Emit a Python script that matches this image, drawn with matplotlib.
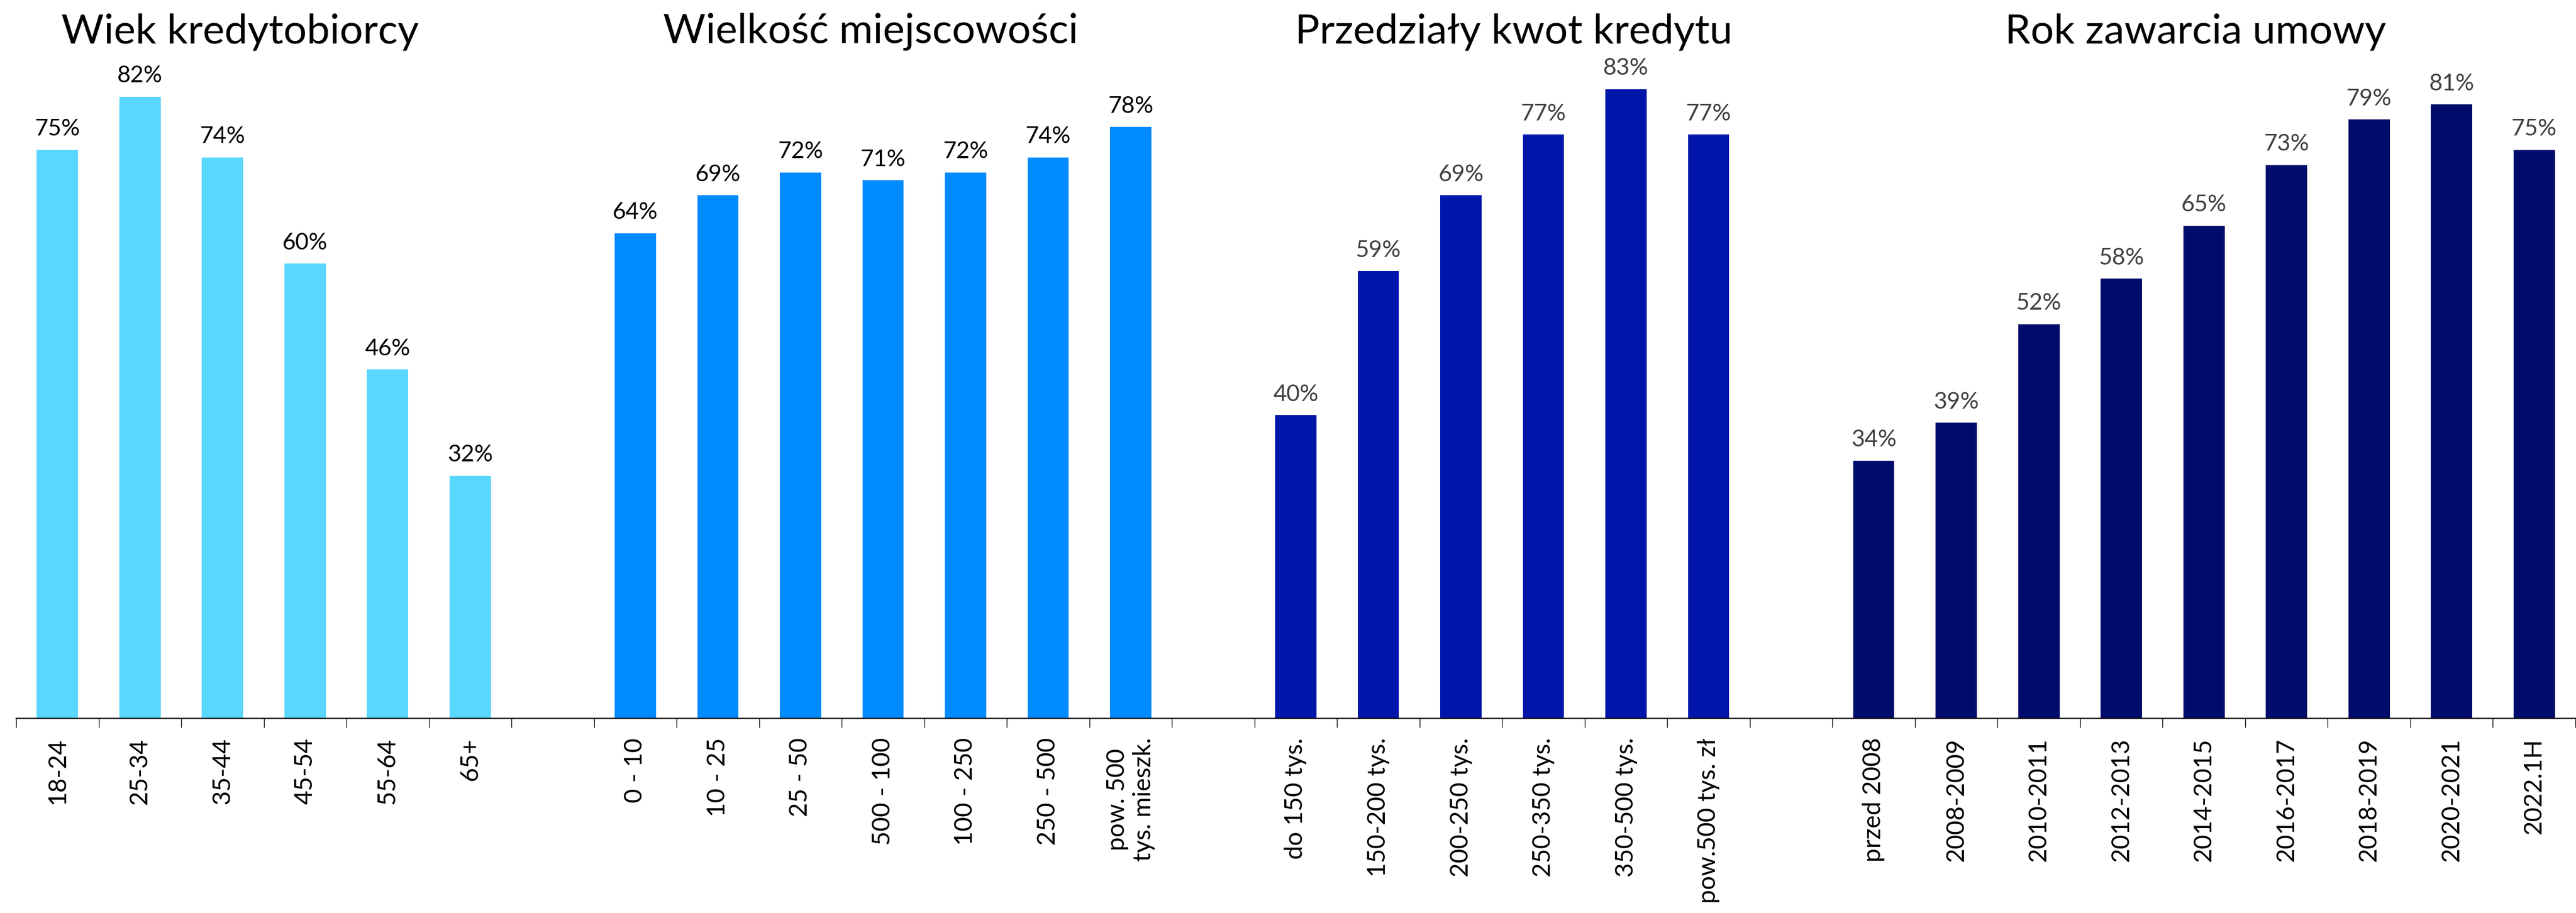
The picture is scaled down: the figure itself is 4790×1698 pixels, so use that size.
import numpy as np
import matplotlib.pyplot as plt
from matplotlib import transforms

plt.rcParams['font.family'] = ['Lato', 'DejaVu Sans']

#%% data
titles = ['Wiek kredytobiorcy', 'Wielkość miejscowości',
          'Przedziały kwot kredytu', 'Rok zawarcia umowy']

wiek_lab = ['18-24', '25-34', '35-44', '45-54', '55-64', '65+']
wiek_val = [75, 82, 74, 60, 46, 32]

miejsc_lab = ['0 - 10', '10 - 25', '25 - 50', '500 - 100', '100 - 250',
              '250 - 500', 'pow. 500\ntys. mieszk.']
miejsc_val = [64, 69, 72, 71, 72, 74, 78]

kwota_lab = ['do 150 tys.', '150-200 tys.', '200-250 tys.', '250-350 tys.',
             '350-500 tys.', 'pow.500 tys. zł']
kwota_val = [40, 59, 69, 77, 83, 77]

rok_lab = ['przed 2008', '2008-2009', '2010-2011', '2012-2013', '2014-2015',
           '2016-2017', '2018-2019', '2020-2021', '2022.1H']
rok_val = [34, 39, 52, 58, 65, 73, 79, 81, 75]

groups = [(wiek_lab, wiek_val), (miejsc_lab, miejsc_val),
          (kwota_lab, kwota_val), (rok_lab, rok_val)]
bar_colors = ['#5AD7FF', '#028BFF', '#0015AA', '#000B6C']
val_colors = ['black', 'black', '#404040', '#404040']

#%% plot
W, H = 4790, 1698
fig = plt.figure(figsize=(W / 100, H / 100), dpi=100)
ax = fig.add_axes([30 / W, 362 / H, 4759 / W, 1 - 362 / H])

centers, labels = [], []
start = 0
title_x = []
for g, (lab, val) in enumerate(groups):
    x = start + np.arange(len(lab)) + 0.5
    ax.bar(x, val, width=0.5, color=bar_colors[g], zorder=2)
    for xi, v in zip(x, val):
        ax.annotate(f'{v}%', (xi, v), xytext=(0, 19), textcoords='offset points',
                    ha='center', va='baseline', fontsize=31, color=val_colors[g])
    centers += list(x)
    labels += lab
    title_x.append(start + len(lab) / 2)
    start += len(lab) + 1
n_slots = start - 1

ax.set_xlim(0, n_slots)
ax.set_ylim(0, 1336 / 14.1)

ax.set_xticks(np.arange(0, n_slots + 1))
ax.set_xticklabels([])
ax.tick_params(axis='x', which='major', length=12, width=1.0, color='black')
ax.set_xticks(centers, minor=True)
ax.set_xticklabels(labels, minor=True, rotation=90, fontsize=33)
ax.tick_params(axis='x', which='minor', length=0, pad=26)

ax.set_yticks([])
for s in ['left', 'right', 'top']:
    ax.spines[s].set_visible(False)
ax.spines['bottom'].set_linewidth(1.6)

trans = transforms.blended_transform_factory(ax.transData, fig.transFigure)
offsets = [-0.29, -0.15, 0.14, -0.1]
for t, tx, off in zip(titles, title_x, offsets):
    ax.text(tx + off, 1 - 80 / H, t, transform=trans, ha='center', va='baseline',
            fontsize=55, color='black', clip_on=False)

fig.savefig('out.png', dpi=100)
